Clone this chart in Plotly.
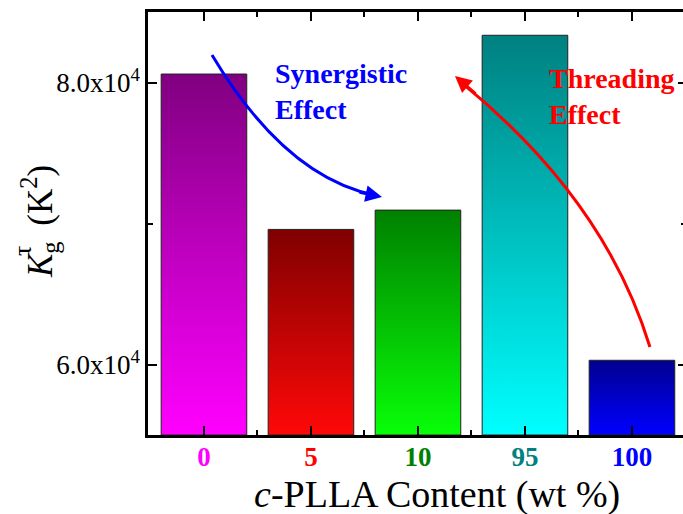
import plotly.graph_objects as go

# c-PLLA content groups and their K_g^tau values
contents = ["0", "5", "10", "95", "100"]
kg_values = [80600, 69580, 70950, 83350, 60300]

# colour for each group: label colour, bar top (dark) and bar bottom (light)
label_colors = ["#FF00FF", "#FF0000", "#008000", "#008080", "#0000FF"]
bar_top_colors = ["#800080", "#800000", "#008000", "#008080", "#000090"]
bar_bottom_colors = ["#FF00FF", "#FF0808", "#08FF08", "#00FFFF", "#0000FF"]

y_ticks = [60000, 80000]
y_tick_text = ["6.0x10<sup>4</sup>", "8.0x10<sup>4</sup>"]
y_range = [55000, 85000]
x_range = [-0.523, 4.477]
bar_width = 0.8

FONT = "Liberation Serif, Times New Roman, serif"

fig = go.Figure()

# bars as filled outlines so they can carry a vertical colour gradient
for i, (val, top_c, bot_c) in enumerate(zip(kg_values, bar_top_colors, bar_bottom_colors)):
    x0, x1 = i - bar_width / 2, i + bar_width / 2
    base = y_range[0]
    fig.add_trace(go.Scatter(
        x=[x0, x0, x1, x1, x0],
        y=[base, val, val, base, base],
        mode="lines",
        fill="toself",
        fillgradient=dict(type="vertical", colorscale=[[0, bot_c], [1, top_c]]),
        line=dict(color="#222222", width=1),
        hoverinfo="skip",
        showlegend=False,
    ))

# invisible trace so the right-hand axis is rendered
fig.add_trace(go.Scatter(x=[0], y=[y_range[0]], yaxis="y2", mode="markers",
                         marker=dict(opacity=0), showlegend=False, hoverinfo="skip"))

tick_text = [f'<b><span style="color:{c}">{t}</span></b>' for t, c in zip(contents, label_colors)]

fig.update_layout(
    width=683, height=514,
    margin=dict(l=148, r=0, t=12, b=79),
    paper_bgcolor="white", plot_bgcolor="white",
    font=dict(family=FONT, color="black"),
    xaxis=dict(
        range=x_range, showgrid=False, zeroline=False,
        tickmode="array", tickvals=list(range(len(contents))), ticktext=tick_text,
        tickfont=dict(size=27, family=FONT), ticklabelstandoff=-4,
        ticks="inside", ticklen=9, tickwidth=2, tickcolor="black",
        showline=True, linecolor="black", linewidth=2.5, mirror="ticks",
        minor=dict(tickvals=[0.5, 1.5, 2.5, 3.5], ticks="inside", ticklen=5,
                   tickwidth=2, tickcolor="black"),
    ),
    yaxis=dict(
        range=y_range, showgrid=False, zeroline=False,
        tickmode="array", tickvals=y_ticks, ticktext=y_tick_text,
        tickfont=dict(size=27, family=FONT),
        ticks="inside", ticklen=9, tickwidth=2, tickcolor="black",
        showline=True, linecolor="black", linewidth=2.5,
        minor=dict(tickvals=[70000], ticks="inside", ticklen=5,
                   tickwidth=2, tickcolor="black"),
    ),
    yaxis2=dict(
        range=y_range, overlaying="y", side="right", showgrid=False, zeroline=False,
        tickmode="array", tickvals=y_ticks, showticklabels=False,
        ticks="inside", ticklen=5, tickwidth=2, tickcolor="black", showline=False,
        minor=dict(tickvals=[70000], ticks="inside", ticklen=2,
                   tickwidth=2, tickcolor="black"),
    ),
)

# curved arrows (quadratic Bezier paths) with heads at the end points
synergy_path = dict(start=(0.075, 81950), ctrl=(0.757, 73300), end=(1.60, 72000))
threading_path = dict(start=(4.168, 61240), ctrl=(3.748, 71670), end=(2.42, 79900))


def bezier(p):
    (sx, sy), (cx, cy), (ex, ey) = p["start"], p["ctrl"], p["end"]
    return f"M {sx},{sy} Q {cx},{cy} {ex},{ey}"


fig.add_shape(type="path", path=bezier(synergy_path), xref="x", yref="y",
              line=dict(color="#0000FF", width=3))
fig.add_shape(type="path", path=bezier(threading_path), xref="x", yref="y",
              line=dict(color="#FF0000", width=3))

fig.add_annotation(x=1.664, y=71880, xref="x", yref="y", text="", showarrow=True,
                   ax=-24, ay=-5, arrowhead=2, arrowsize=1.1, arrowwidth=3,
                   arrowcolor="#0000FF")
fig.add_annotation(x=2.346, y=80460, xref="x", yref="y", text="", showarrow=True,
                   ax=22, ay=19, arrowhead=2, arrowsize=1.1, arrowwidth=3,
                   arrowcolor="#FF0000")

fig.add_annotation(x=0.645, y=81900, xref="x", yref="y", xanchor="left", yanchor="top",
                   text="<b>Synergistic<br>Effect</b>", showarrow=False, align="left",
                   font=dict(size=28, color="#0000FF", family=FONT))
fig.add_annotation(x=3.206, y=81550, xref="x", yref="y", xanchor="left", yanchor="top",
                   text="<b>Threading<br>Effect</b>", showarrow=False, align="left",
                   font=dict(size=28, color="#FF0000", family=FONT))

# axis titles
fig.add_annotation(x=(437 - 148) / 535, y=(435 - 494) / 423, xref="paper", yref="paper",
                   xanchor="center", yanchor="middle", showarrow=False,
                   text="<i>c</i>-PLLA Content (wt %)",
                   font=dict(size=38, family=FONT, color="black"))
fig.add_annotation(x=(39 - 148) / 535, y=(435 - 222) / 423, xref="paper", yref="paper",
                   xanchor="center", yanchor="middle", showarrow=False, textangle=-90,
                   text="<i>K</i><sub>g</sub>\u2009 (K<sup>2</sup>)",
                   font=dict(size=35, family=FONT, color="black"))
# tau superscript stacked above the g subscript
fig.add_annotation(x=(22 - 148) / 535, y=(435 - 251) / 423, xref="paper", yref="paper",
                   xanchor="center", yanchor="middle", showarrow=False, textangle=-90,
                   text="τ", font=dict(size=26, family=FONT, color="black"))

fig.write_html("out.html")
